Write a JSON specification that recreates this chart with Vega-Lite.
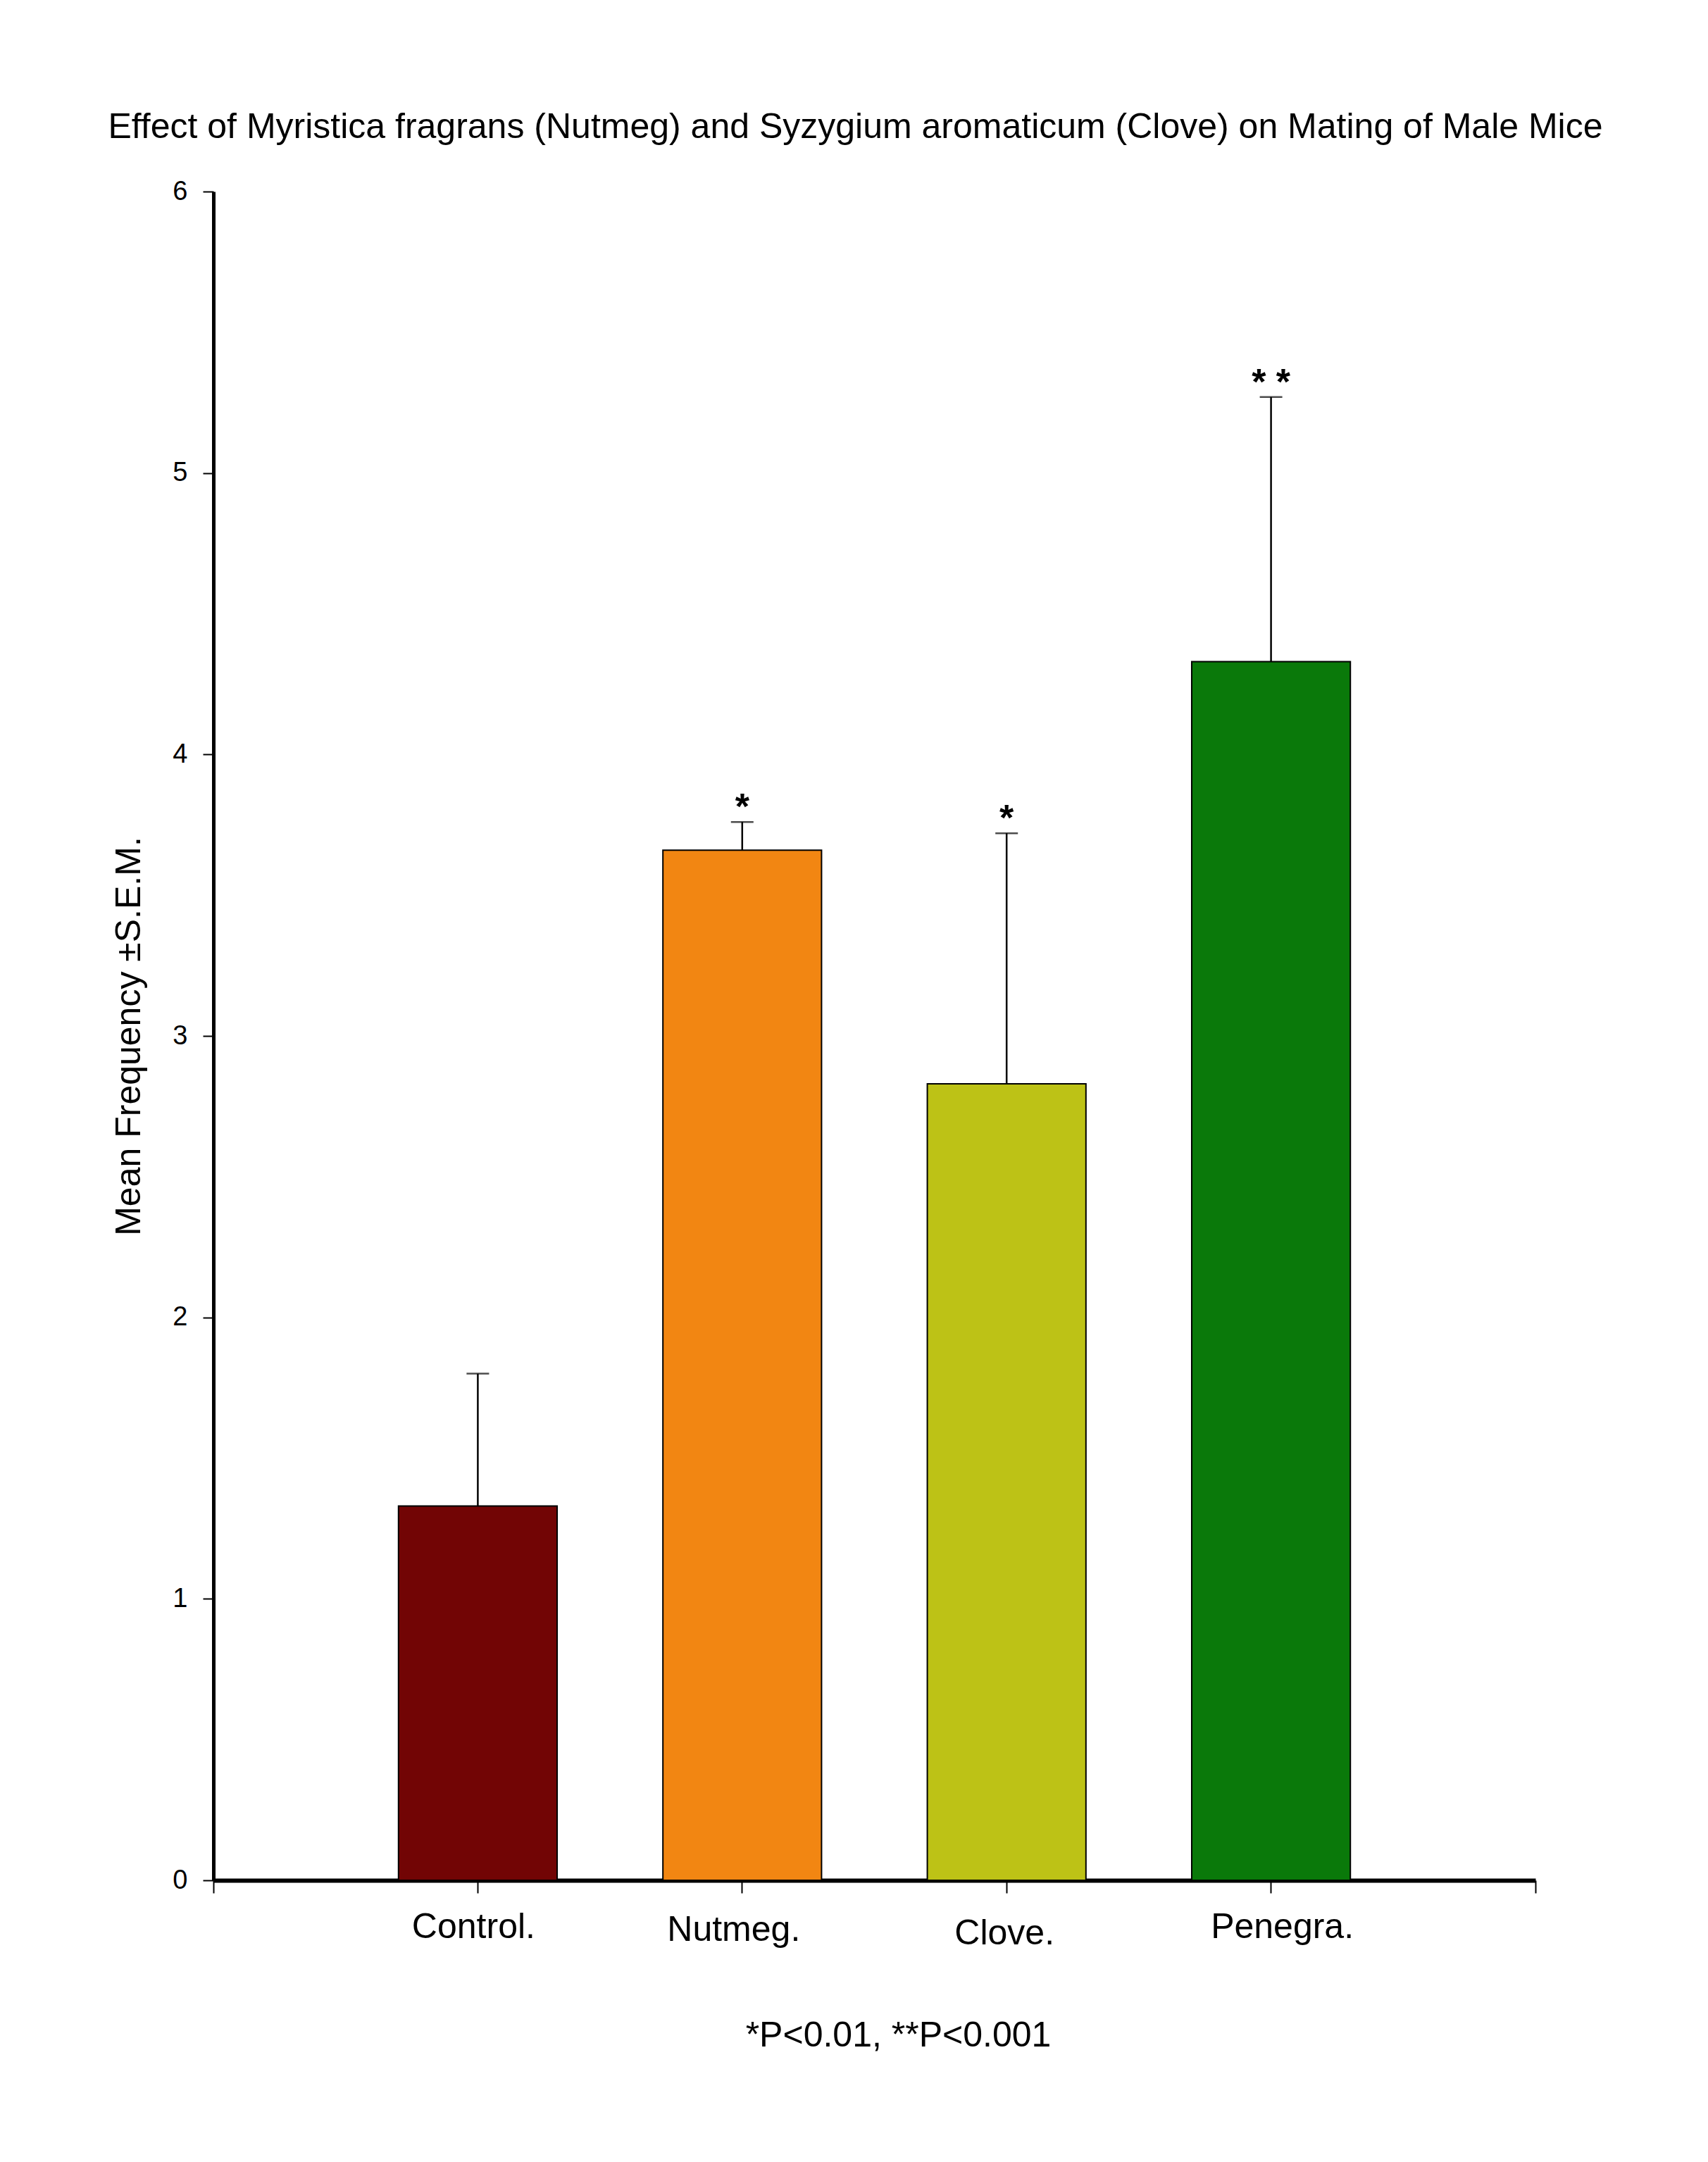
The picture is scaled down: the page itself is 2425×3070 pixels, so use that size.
{
  "$schema": "https://vega.github.io/schema/vega-lite/v6.json",
  "width": 1877,
  "height": 2398,
  "autosize": {"type": "none"},
  "padding": {"left": 303, "top": 272, "right": 245, "bottom": 400},
  "background": "white",
  "title": {
    "text": "Effect of Myristica fragrans (Nutmeg) and Syzygium aromaticum (Clove) on Mating of Male Mice",
    "font": "Liberation Sans",
    "fontSize": 50,
    "fontWeight": "normal",
    "color": "black",
    "anchor": "middle",
    "frame": "group",
    "baseline": "alphabetic",
    "dx": -27,
    "offset": 7
  },
  "data": {
    "values": [
      {"group": "Control.", "mean": 1.33, "sem_hi": 1.80, "sig": ""},
      {"group": "Nutmeg.", "mean": 3.66, "sem_hi": 3.76, "sig": "*"},
      {"group": "Clove.", "mean": 2.83, "sem_hi": 3.72, "sig": "*"},
      {"group": "Penegra.", "mean": 4.33, "sem_hi": 5.27, "sig": "* *"}
    ]
  },
  "layer": [
    {
      "encoding": {
        "x": {
          "field": "group",
          "type": "nominal",
          "scale": {
            "domain": ["Control.", "Nutmeg.", "Clove.", "Penegra."],
            "paddingInner": 0.4,
            "paddingOuter": 0.7
          },
          "axis": {
            "orient": "bottom",
            "labelAngle": 0,
            "labelFontSize": 50,
            "labelPadding": {
              "condition": [
                {"test": "datum.value === 'Nutmeg.'", "value": 27},
                {"test": "datum.value === 'Clove.'", "value": 32}
              ],
              "value": 23
            },
            "labelOffset": {
              "condition": [
                {"test": "datum.value === 'Control.'", "value": -6},
                {"test": "datum.value === 'Nutmeg.'", "value": -12},
                {"test": "datum.value === 'Clove.'", "value": -3}
              ],
              "value": 16
            },
            "labelLimit": 0,
            "tickSize": 18,
            "tickWidth": 2,
            "domainWidth": 6,
            "title": "*P<0.01, **P<0.001",
            "titleFontSize": 50,
            "titleFontWeight": "normal",
            "titleBaseline": "alphabetic",
            "titleAlign": "center",
            "titleX": 972,
            "titleY": 235
          }
        },
        "y": {
          "type": "quantitative",
          "scale": {"domain": [0, 6], "nice": false},
          "axis": {
            "values": [0, 1, 2, 3, 4, 5, 6],
            "grid": false,
            "labelFontSize": 38,
            "labelPadding": 22,
            "tickSize": 15,
            "tickWidth": 2,
            "domainWidth": 5,
            "title": "Mean Frequency ±S.E.M.",
            "titleFontSize": 50,
            "titleFontWeight": "normal",
            "titlePadding": 36
          }
        }
      },
      "layer": [
        {
          "mark": {"type": "bar", "stroke": "black", "strokeWidth": 2},
          "encoding": {
            "y": {"field": "mean"},
            "color": {
              "field": "group",
              "type": "nominal",
              "scale": {
                "domain": ["Control.", "Nutmeg.", "Clove.", "Penegra."],
                "range": ["#720505", "#F28612", "#BDC216", "#0A790A"]
              },
              "legend": null
            }
          }
        },
        {
          "mark": {"type": "rule", "color": "black", "strokeWidth": 2.5},
          "encoding": {
            "y": {"field": "mean"},
            "y2": {"field": "sem_hi"}
          }
        },
        {
          "mark": {"type": "tick", "color": "black", "size": 32, "thickness": 2.5},
          "encoding": {
            "y": {"field": "sem_hi"}
          }
        },
        {
          "mark": {
            "type": "text",
            "font": "Liberation Sans",
            "fontSize": 52,
            "fontWeight": "bold",
            "color": "black",
            "baseline": "alphabetic",
            "align": "center",
            "dy": -4
          },
          "encoding": {
            "y": {"field": "sem_hi"},
            "text": {"field": "sig"}
          }
        }
      ]
    },
    {
      "mark": {"type": "rule", "opacity": 0},
      "encoding": {
        "x": {
          "datum": 0,
          "type": "quantitative",
          "scale": {"domain": [0, 5], "nice": false},
          "axis": {
            "orient": "bottom",
            "values": [0, 5],
            "labels": false,
            "domain": false,
            "grid": false,
            "title": null,
            "tickSize": 18,
            "tickWidth": 2
          }
        }
      }
    }
  ],
  "resolve": {"scale": {"x": "independent"}},
  "config": {
    "font": "Liberation Sans",
    "view": {"stroke": null},
    "axis": {
      "domainColor": "black",
      "tickColor": "black",
      "labelColor": "black",
      "titleColor": "black",
      "labelFont": "Liberation Sans",
      "titleFont": "Liberation Sans"
    }
  }
}
